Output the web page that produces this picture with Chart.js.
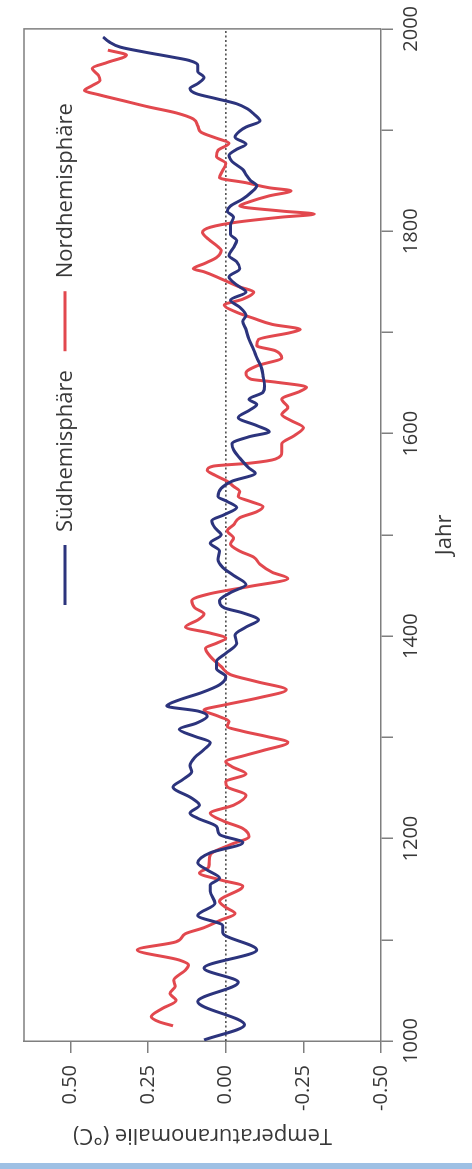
<!DOCTYPE html>
<html lang="de">
<head>
<meta charset="utf-8">
<title>Temperaturanomalie</title>
<script src="https://cdn.jsdelivr.net/npm/chart.js@4.4.1/dist/chart.umd.min.js"></script>
<style>
    html, body { margin: 0; padding: 0; background: #fff; }
    body { width: 472px; height: 1169px; position: relative; overflow: hidden; }
    /* chart is drawn landscape and turned a quarter to the left */
    #wrap {
        position: absolute; left: 0; top: 0;
        width: 1169px; height: 472px;
        transform-origin: 0 0;
        transform: translate(0, 1169px) rotate(-90deg);
    }
    #strip { position: absolute; left: 0; right: 0; bottom: 0; height: 6px; background: #9ec0e4; }
</style>
</head>
<body>
<div id="wrap"><canvas id="tempChart" width="1169" height="472"></canvas></div>
<div id="strip"></div>
<script>
    // Data
    const southYears = [1001, 1016, 1039, 1058, 1072, 1090, 1107, 1114, 1124, 1136, 1148, 1154, 1161, 1169, 1176, 1186, 1196, 1204, 1212, 1220, 1225, 1233, 1240, 1251, 1258, 1266, 1272, 1280, 1288, 1295, 1301, 1308, 1314, 1321, 1326, 1331, 1337, 1344, 1352, 1360, 1368, 1375, 1383, 1393, 1401, 1409, 1416, 1423, 1428, 1435, 1443, 1451, 1460, 1468, 1476, 1484, 1492, 1500, 1507, 1514, 1520, 1527, 1533, 1538, 1546, 1553, 1561, 1566, 1576, 1584, 1590, 1597, 1602, 1608, 1616, 1623, 1629, 1634, 1641, 1647, 1657, 1665, 1675, 1683, 1693, 1703, 1711, 1717, 1725, 1732, 1740, 1747, 1755, 1763, 1770, 1776, 1784, 1791, 1797, 1806, 1814, 1820, 1825, 1832, 1838, 1845, 1850, 1856, 1861, 1869, 1875, 1881, 1886, 1893, 1899, 1903, 1909, 1916, 1921, 1926, 1931, 1936, 1941, 1946, 1952, 1958, 1964, 1969, 1972, 1977, 1982, 1987, 1992];
    const southTemps = [0.07, -0.06, 0.09, -0.04, 0.07, -0.10, 0.01, 0.01, 0.09, 0.035, 0.05, 0.05, 0.02, 0.06, 0.09, 0.05, -0.055, 0.02, 0.03, 0.09, 0.115, 0.085, 0.11, 0.17, 0.14, 0.11, 0.115, 0.10, 0.07, 0.05, 0.10, 0.15, 0.095, 0.06, 0.09, 0.19, 0.15, 0.08, 0.02, 0.00, 0.03, 0.03, 0.00, -0.035, -0.03, -0.065, -0.105, -0.055, 0.005, 0.02, -0.015, -0.065, -0.025, 0.01, 0.025, 0.02, 0.05, 0.015, 0.035, 0.045, 0.005, -0.035, -0.005, 0.025, 0.015, -0.02, -0.095, -0.075, -0.045, -0.025, -0.02, -0.075, -0.14, -0.10, -0.04, -0.075, -0.10, -0.075, -0.12, -0.125, -0.12, -0.115, -0.10, -0.09, -0.075, -0.065, -0.055, -0.065, -0.045, -0.015, -0.065, -0.035, -0.01, -0.045, -0.035, -0.01, -0.025, -0.035, -0.015, -0.015, -0.025, -0.005, -0.015, -0.055, -0.08, -0.10, -0.08, -0.065, -0.055, -0.02, -0.01, -0.035, -0.065, -0.03, -0.045, -0.065, -0.11, -0.09, -0.07, -0.035, 0.03, 0.095, 0.115, 0.09, 0.07, 0.09, 0.09, 0.12, 0.17, 0.26, 0.34, 0.375, 0.395];

    const northYears = [1015, 1019, 1024, 1032, 1040, 1047, 1054, 1060, 1070, 1075, 1080, 1090, 1098, 1106, 1112, 1119, 1126, 1132, 1138, 1153, 1159, 1166, 1172, 1184, 1194, 1202, 1210, 1217, 1225, 1233, 1243, 1251, 1256, 1264, 1271, 1276, 1282, 1287, 1295, 1301, 1306, 1311, 1316, 1321, 1327, 1332, 1339, 1347, 1355, 1362, 1370, 1380, 1388, 1393, 1398, 1403, 1409, 1416, 1422, 1428, 1435, 1442, 1449, 1457, 1463, 1471, 1478, 1484, 1491, 1497, 1504, 1510, 1517, 1523, 1528, 1533, 1538, 1543, 1548, 1553, 1559, 1564, 1568, 1571, 1575, 1582, 1590, 1598, 1606, 1613, 1619, 1626, 1634, 1642, 1646, 1651, 1654, 1660, 1667, 1675, 1682, 1687, 1693, 1700, 1703, 1708, 1714, 1720, 1727, 1733, 1740, 1745, 1753, 1760, 1763, 1768, 1774, 1781, 1786, 1792, 1799, 1804, 1809, 1814, 1817, 1820, 1825, 1829, 1835, 1840, 1843, 1848, 1853, 1860, 1867, 1874, 1880, 1887, 1892, 1898, 1904, 1911, 1917, 1923, 1929, 1935, 1939, 1944, 1949, 1954, 1961, 1967, 1974, 1979];
    const northTemps = [0.17, 0.215, 0.24, 0.205, 0.16, 0.18, 0.163, 0.168, 0.13, 0.12, 0.15, 0.285, 0.16, 0.13, 0.07, 0.02, -0.03, 0.00, 0.02, -0.055, 0.015, 0.085, 0.055, 0.05, -0.015, -0.075, -0.055, 0.005, 0.05, -0.025, -0.065, -0.005, 0.00, -0.065, -0.02, 0.00, -0.06, -0.12, -0.20, -0.13, -0.055, -0.005, -0.01, 0.025, 0.07, 0.005, -0.105, -0.195, -0.10, -0.015, 0.015, 0.05, 0.065, 0.03, 0.00, 0.05, 0.13, 0.09, 0.07, 0.10, 0.11, 0.05, -0.075, -0.20, -0.15, -0.11, -0.09, -0.045, -0.015, -0.025, -0.005, -0.025, -0.045, -0.10, -0.12, -0.08, -0.04, -0.045, -0.025, -0.005, 0.035, 0.06, 0.04, -0.08, -0.16, -0.18, -0.18, -0.22, -0.25, -0.21, -0.18, -0.20, -0.18, -0.24, -0.26, -0.16, -0.08, -0.065, -0.10, -0.18, -0.16, -0.10, -0.105, -0.21, -0.24, -0.15, -0.09, -0.035, 0.005, -0.055, -0.09, -0.045, 0.015, 0.07, 0.105, 0.07, 0.03, 0.015, 0.03, 0.055, 0.075, 0.05, -0.035, -0.18, -0.285, -0.18, -0.045, -0.075, -0.14, -0.21, -0.14, -0.065, 0.02, 0.01, 0.00, 0.03, 0.025, -0.01, 0.03, 0.08, 0.09, 0.105, 0.16, 0.25, 0.33, 0.41, 0.455, 0.43, 0.405, 0.41, 0.43, 0.38, 0.32, 0.38];

    const yearTicks = [1000, 1100, 1200, 1300, 1400, 1500, 1600, 1700, 1800, 1900, 2000];
    const yearLabels = ['1000', '', '1200', '', '1400', '', '1600', '', '1800', '', '2000'];
    const tempTicks = [0.5, 0.25, 0, -0.25, -0.5];
    const tempLabels = ['0.50', '0.25', '0.00', '-0.25', '-0.50'];

    const AXIS_GREY = '#7f7f7f';
    const TEXT_GREY = '#383838';
    const FONT = "'Open Sans', 'Liberation Sans', sans-serif";

    function toPoints(xs, ys) {
        return xs.map((x, i) => ({ x: x, y: ys[i] }));
    }

    // Box round the plot (top and right sides) and the dotted zero line
    const framePlugin = {
        id: 'frame',
        beforeDatasetsDraw(chart) {
            const { ctx, chartArea: a, scales } = chart;
            const y0 = scales.y.getPixelForValue(0);
            ctx.save();
            ctx.strokeStyle = '#222';
            ctx.lineWidth = 1.2;
            ctx.setLineDash([2, 2.5]);
            ctx.beginPath();
            ctx.moveTo(a.left, y0);
            ctx.lineTo(a.right, y0);
            ctx.stroke();
            ctx.restore();
        },
        afterDraw(chart) {
            const { ctx, chartArea: a } = chart;
            ctx.save();
            ctx.strokeStyle = AXIS_GREY;
            ctx.lineWidth = 1.5;
            ctx.beginPath();
            ctx.moveTo(a.left, a.top);
            ctx.lineTo(a.right, a.top);
            ctx.lineTo(a.right, a.bottom);
            ctx.stroke();
            ctx.restore();
        }
    };

    // Legend sits inside the plot, above the 0.50 line
    const innerLegend = {
        id: 'innerLegend',
        afterDatasetsDraw(chart) {
            const { ctx, chartArea: a } = chart;
            let x = a.left + 436;
            const y = a.top + 41;
            ctx.save();
            ctx.font = '22px ' + FONT;
            ctx.textBaseline = 'middle';
            ctx.fillStyle = TEXT_GREY;
            chart.data.datasets.forEach(ds => {
                ctx.strokeStyle = ds.borderColor;
                ctx.lineWidth = 3;
                ctx.beginPath();
                ctx.moveTo(x, y);
                ctx.lineTo(x + 60, y);
                ctx.stroke();
                x += 73;
                ctx.fillText(ds.label, x, y + 1);
                x += ctx.measureText(ds.label).width + 19;
            });
            ctx.restore();
        }
    };

    const ctx = document.getElementById('tempChart').getContext('2d');
    new Chart(ctx, {
        type: 'line',
        data: {
            datasets: [
                {
                    label: 'Südhemisphäre',
                    data: toPoints(southYears, southTemps),
                    borderColor: 'rgb(44, 52, 125)',
                    borderWidth: 3,
                    pointRadius: 0,
                    cubicInterpolationMode: 'monotone'
                },
                {
                    label: 'Nordhemisphäre',
                    data: toPoints(northYears, northTemps),
                    borderColor: 'rgb(226, 72, 78)',
                    borderWidth: 3,
                    pointRadius: 0,
                    cubicInterpolationMode: 'monotone'
                }
            ]
        },
        options: {
            responsive: false,
            animation: false,
            layout: { padding: { top: 14, right: 24, left: 0, bottom: 0 } },
            plugins: {
                legend: { display: false },
                tooltip: { enabled: false }
            },
            scales: {
                x: {
                    type: 'linear',
                    min: 1000,
                    max: 2000,
                    afterBuildTicks: (scale) => { scale.ticks = yearTicks.map(v => ({ value: v })); },
                    afterFit: (scale) => { scale.height = 91; },
                    ticks: {
                        autoSkip: false,
                        maxRotation: 0,
                        padding: 6,
                        color: TEXT_GREY,
                        font: { family: FONT, size: 20 },
                        callback: (value, index) => yearLabels[index]
                    },
                    grid: {
                        drawOnChartArea: false,
                        tickLength: 12,
                        color: AXIS_GREY,
                        lineWidth: 1.5
                    },
                    border: { color: AXIS_GREY, width: 1.5 },
                    title: {
                        display: true,
                        text: 'Jahr',
                        color: TEXT_GREY,
                        font: { family: FONT, size: 22 },
                        padding: { top: 0, bottom: 14 }
                    }
                },
                y: {
                    min: -0.5,
                    max: 0.65,
                    afterBuildTicks: (scale) => { scale.ticks = tempTicks.map(v => ({ value: v })); },
                    afterFit: (scale) => { scale.width = 128; },
                    ticks: {
                        padding: 12,
                        color: TEXT_GREY,
                        font: { family: FONT, size: 20 },
                        callback: (value, index) => tempLabels[index]
                    },
                    grid: {
                        drawOnChartArea: false,
                        tickLength: 12,
                        color: AXIS_GREY,
                        lineWidth: 1.5
                    },
                    border: { color: AXIS_GREY, width: 1.5 },
                    title: {
                        display: true,
                        text: 'Temperaturanomalie (°C)',
                        color: TEXT_GREY,
                        font: { family: FONT, size: 22 },
                        padding: { top: 21, bottom: 0 }
                    }
                }
            }
        },
        plugins: [framePlugin, innerLegend]
    });
</script>
</body>
</html>
